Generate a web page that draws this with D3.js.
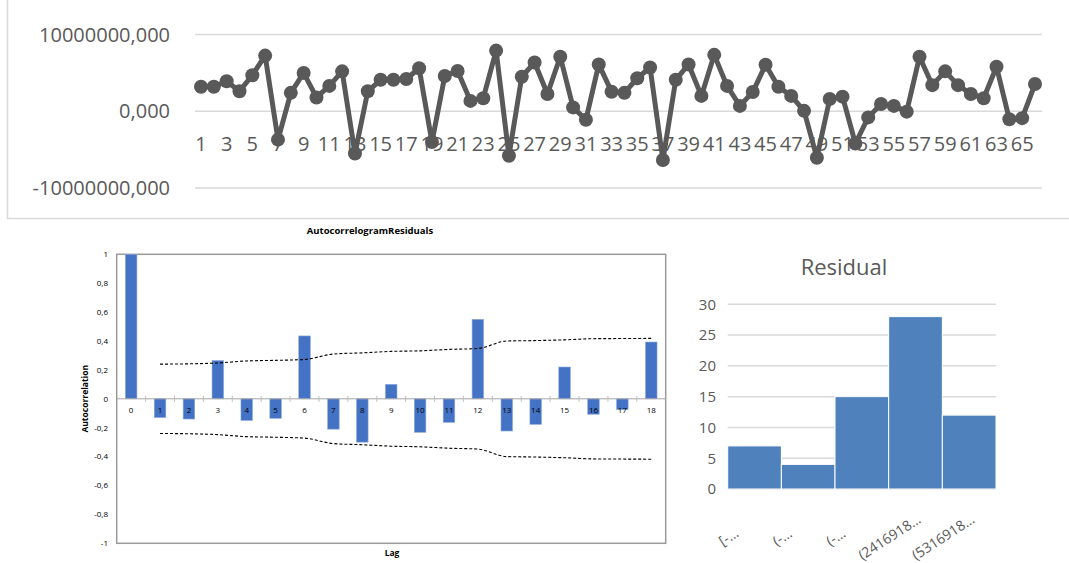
<!DOCTYPE html>
<html>
<head>
<meta charset="utf-8">
<script src="https://cdn.jsdelivr.net/npm/d3@7"></script>
<style>
  body { margin: 0; background: #fff; }
  svg { display: block; }
</style>
</head>
<body>
<div id="chart"></div>
<script>
// residual series (top chart)
const residualIndex = d3.range(1, 67)
const residualValues = [
  3200000, 3200000, 3900000, 2600000, 4700000, 7250000, -3700000, 2400000, 5000000, 1800000,
  3300000, 5200000, -5500000, 2600000, 4100000, 4100000, 4200000, 5600000, -4000000, 4600000,
  5250000, 1350000, 1700000, 7900000, -5800000, 4500000, 6350000, 2250000, 7100000, 500000,
  -1100000, 6100000, 2550000, 2400000, 4300000, 5700000, -6350000, 4100000, 6100000, 2000000,
  7350000, 3300000, 700000, 2500000, 6050000, 3200000, 2000000, 50000, -6050000, 1600000,
  1900000, -4200000, -800000, 950000, 700000, -50000, 7100000, 3400000, 5200000, 3400000,
  2250000, 1700000, 5800000, -1050000, -900000, 3550000
]
const topTicks = [-10000000, 0, 10000000]

// autocorrelogram
const lags = d3.range(0, 19)
const acfValues = [1, -0.13, -0.14, 0.265, -0.15, -0.135, 0.435, -0.21, -0.3, 0.1,
  -0.232, -0.163, 0.55, -0.223, -0.177, 0.22, -0.107, -0.075, 0.393]
const boundLags = d3.range(1, 19)
const acfBound = [0.24, 0.242, 0.248, 0.262, 0.266, 0.272, 0.31, 0.318, 0.328, 0.332,
  0.342, 0.348, 0.4, 0.403, 0.408, 0.416, 0.417, 0.418]
const acfTicks = [-1, -0.8, -0.6, -0.4, -0.2, 0, 0.2, 0.4, 0.6, 0.8, 1]

// histogram
const binLabels = ["[-\u2026", "(-\u2026", "(-\u2026 ", "(2416918\u2026", "(5316918\u2026"]
const binCounts = [7, 4, 15, 28, 12]
const histTicks = [0, 5, 10, 15, 20, 25, 30]

const W = 1069, H = 563
const grey = "#595959"
const font = "'Open Sans', 'Liberation Sans', sans-serif"

const comma = d3.formatLocale({ decimal: ",", thousands: "", grouping: [3], currency: ["", ""], minus: "-" })
const fmtTop = comma.format(".3f")
const fmtAcf = v => comma.format("")(v)

const svg = d3.select("#chart").append("svg")
  .attr("width", W)
  .attr("height", H)
  .style("font-family", font)

// ---------- top line chart ----------
const lineChart = svg.append("g")

lineChart.append("path")
  .attr("d", "M7.5,0 V218.5 H1069")
  .attr("fill", "none")
  .attr("stroke", "#d9d9d9")
  .attr("stroke-width", 1.5)

const xTop = d3.scalePoint().domain(residualIndex).range([201, 1035])
const yTop = d3.scaleLinear().domain([-10000000, 10000000]).range([188, 34.5])

lineChart.selectAll(".grid")
  .data(topTicks)
  .join("line")
  .attr("x1", 195).attr("x2", 1042)
  .attr("y1", d => yTop(d)).attr("y2", d => yTop(d))
  .attr("stroke", "#d9d9d9")
  .attr("stroke-width", 1.5)

lineChart.selectAll(".ylab")
  .data(topTicks)
  .join("text")
  .attr("x", 170)
  .attr("y", d => yTop(d))
  .attr("dy", "0.36em")
  .attr("text-anchor", "end")
  .attr("fill", grey)
  .style("font-size", "20px")
  .text(d => fmtTop(d))

lineChart.selectAll(".xlab")
  .data(residualIndex.filter(d => d % 2 === 1))
  .join("text")
  .attr("x", d => xTop(d))
  .attr("y", yTop(0) + 40)
  .attr("text-anchor", "middle")
  .attr("fill", grey)
  .style("font-size", "20px")
  .text(d => d)

const line = d3.line()
  .x((d, i) => xTop(residualIndex[i]))
  .y(d => yTop(d))

lineChart.append("path")
  .datum(residualValues)
  .attr("d", line)
  .attr("fill", "none")
  .attr("stroke", grey)
  .attr("stroke-width", 5)
  .attr("stroke-linejoin", "round")

lineChart.selectAll(".dot")
  .data(residualValues)
  .join("circle")
  .attr("cx", (d, i) => xTop(residualIndex[i]))
  .attr("cy", d => yTop(d))
  .attr("r", 7)
  .attr("fill", grey)

// ---------- autocorrelogram ----------
const acf = svg.append("g")
const xA = d3.scaleBand().domain(lags).range([116.7, 665.7]).paddingInner(0.6).paddingOuter(0.3)
const yA = d3.scaleLinear().domain([-1, 1]).range([543.3, 254.3])
const cA = d => xA(d) + xA.bandwidth() / 2

acf.append("text")
  .attr("x", 370).attr("y", 234)
  .attr("text-anchor", "middle")
  .style("font-size", "9.5px").style("font-weight", "bold")
  .text("AutocorrelogramResiduals")

acf.append("rect")
  .attr("x", 116.7).attr("y", 254.3)
  .attr("width", 549).attr("height", 289)
  .attr("fill", "none")
  .attr("stroke", "#9a9a9a")
  .attr("stroke-width", 1.5)

acf.selectAll(".ylab")
  .data(acfTicks)
  .join("text")
  .attr("x", 108)
  .attr("y", d => yA(d))
  .attr("dy", "0.35em")
  .attr("text-anchor", "end")
  .style("font-size", "8px")
  .text(d => fmtAcf(d))

acf.selectAll(".bar")
  .data(acfValues)
  .join("rect")
  .attr("x", (d, i) => xA(lags[i]))
  .attr("width", xA.bandwidth())
  .attr("y", d => yA(Math.max(0, d)))
  .attr("height", d => Math.abs(yA(d) - yA(0)))
  .attr("fill", "#4472c4")
  .attr("stroke", "#8eaadb")
  .attr("stroke-width", 0.6)

acf.append("line")
  .attr("x1", 116.7).attr("x2", 665.7)
  .attr("y1", yA(0)).attr("y2", yA(0))
  .attr("stroke", "#a6a6a6")

acf.selectAll(".tick")
  .data(lags.slice(1))
  .join("line")
  .attr("x1", d => xA(d) - xA.step() * xA.paddingInner() / 2)
  .attr("x2", d => xA(d) - xA.step() * xA.paddingInner() / 2)
  .attr("y1", yA(0) - 3).attr("y2", yA(0) + 3)
  .attr("stroke", "#bfbfbf")

acf.selectAll(".xlab")
  .data(lags)
  .join("text")
  .attr("x", d => cA(d))
  .attr("y", yA(0) + 14)
  .attr("text-anchor", "middle")
  .style("font-size", "8px")
  .text(d => d)

const bound = d3.line()
  .x((d, i) => cA(boundLags[i]))
  .y(d => yA(d))
  .curve(d3.curveMonotoneX)

acf.selectAll(".bound")
  .data([acfBound, acfBound.map(v => -v)])
  .join("path")
  .attr("d", bound)
  .attr("fill", "none")
  .attr("stroke", "#000")
  .attr("stroke-width", 1.1)
  .attr("stroke-dasharray", "3,2")

acf.append("text")
  .attr("transform", `translate(88,${yA(0)}) rotate(-90)`)
  .attr("text-anchor", "middle")
  .style("font-size", "8.5px").style("font-weight", "bold")
  .text("Autocorrelation")

acf.append("text")
  .attr("x", 392).attr("y", 556)
  .attr("text-anchor", "middle")
  .style("font-size", "8.5px").style("font-weight", "bold")
  .text("Lag")

// ---------- histogram ----------
const hist = svg.append("g")
const xH = d3.scaleBand().domain(binLabels).range([727.7, 996])
const yH = d3.scaleLinear().domain([0, 30]).range([489, 304.3])

hist.append("text")
  .attr("x", 844).attr("y", 275)
  .attr("text-anchor", "middle")
  .attr("fill", grey)
  .style("font-size", "22px")
  .text("Residual")

hist.selectAll(".grid")
  .data(histTicks)
  .join("line")
  .attr("x1", 727.7).attr("x2", 996)
  .attr("y1", d => yH(d)).attr("y2", d => yH(d))
  .attr("stroke", "#d9d9d9")
  .attr("stroke-width", 1.5)

hist.selectAll(".ylab")
  .data(histTicks)
  .join("text")
  .attr("x", 716)
  .attr("y", d => yH(d))
  .attr("dy", "0.36em")
  .attr("text-anchor", "end")
  .attr("fill", grey)
  .style("font-size", "15px")
  .text(d => d)

hist.selectAll(".bar")
  .data(binCounts)
  .join("rect")
  .attr("x", (d, i) => xH(binLabels[i]))
  .attr("width", xH.bandwidth())
  .attr("y", d => yH(d))
  .attr("height", d => yH(0) - yH(d))
  .attr("fill", "#4f81bd")
  .attr("stroke", "#fff")
  .attr("stroke-width", 1)

hist.selectAll(".xlab")
  .data(binLabels)
  .join("text")
  .attr("transform", d => `translate(${xH(d) + xH.bandwidth() / 2 - 26},537) rotate(-33)`)
  .attr("text-anchor", "middle")
  .attr("dy", "0.35em")
  .attr("fill", grey)
  .style("font-size", "14px")
  .text(d => d.trim())
</script>
</body>
</html>
